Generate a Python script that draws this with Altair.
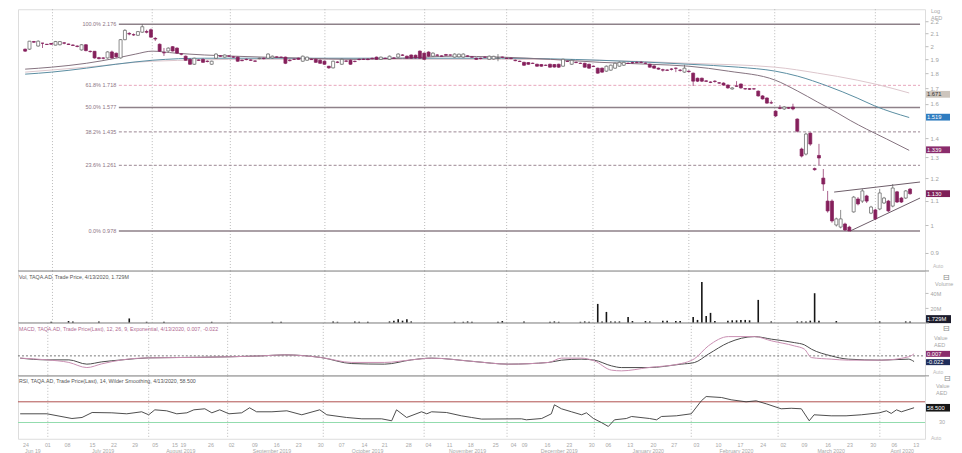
import altair as alt
import pandas as pd

FONT = "Liberation Sans"
W = 908
H_MAIN, H_VOL, H_MACD, H_RSI = 262, 52, 53, 63
XDOM = [-0.5, 206.3]

# ---------------- price candles (trading-day index 0..204) ----------------
opens = [1.976, 1.976, 2.035, 2.0, 2.022, 2.014, 2.02, 2.007, 2.01, 2.025,
         2.016, 2.008, 2.0, 1.97, 2.01, 1.96, 1.96, 1.912, 1.91, 1.91,
         1.955, 1.945, 1.91, 2.05, 2.1, 2.09, 2.085, 2.11, 2.115, 2.13,
         2.06, 2.014, 1.95, 1.962, 1.995, 1.984, 1.94, 1.923, 1.9, 1.864,
         1.895, 1.9, 1.886, 1.864, 1.908, 1.925, 1.916, 1.925, 1.918, 1.916,
         1.893, 1.9, 1.895, 1.888, 1.905, 1.908, 1.908, 1.91, 1.918, 1.916,
         1.916, 1.893, 1.9, 1.908, 1.886, 1.893, 1.9, 1.9, 1.893, 1.886,
         1.85, 1.838, 1.88, 1.864, 1.888, 1.893, 1.886, 1.9, 1.9, 1.902,
         1.908, 1.916, 1.9, 1.908, 1.9, 1.91, 1.916, 1.932, 1.923, 1.932,
         1.93, 1.961, 1.946, 1.954, 1.923, 1.932, 1.925, 1.935, 1.932, 1.916,
         1.918, 1.916, 1.925, 1.918, 1.908, 1.908, 1.916, 1.9, 1.902, 1.908,
         1.916, 1.908, 1.908, 1.893, 1.886, 1.878, 1.876, 1.871, 1.864, 1.862,
         1.857, 1.864, 1.862, 1.864, 1.85, 1.886, 1.864, 1.878, 1.871, 1.871,
         1.864, 1.85, 1.836, 1.836, 1.815, 1.822, 1.836, 1.85, 1.857, 1.871,
         1.876, 1.878, 1.878, 1.872, 1.864, 1.852, 1.836, 1.825, 1.823, 1.83,
         1.836, 1.822, 1.808, 1.815, 1.801, 1.766, 1.766, 1.748, 1.74, 1.746,
         1.735, 1.733, 1.72, 1.694, 1.714, 1.727, 1.696, 1.696, 1.695, 1.68,
         1.649, 1.636, 1.606, 1.555, 1.574, 1.568, 1.575, 1.58, 1.508, 1.343,
         1.317, 1.428, 1.245, 1.31, 1.2, 1.098, 1.098, 1.001, 0.993, 1.005,
         0.993, 1.053, 1.107, 1.098, 1.12, 1.048, 1.061, 1.065, 1.09, 1.098,
         1.077, 1.138, 1.111, 1.111, 1.15]
highs = [1.98, 2.04, 2.04, 2.045, 2.025, 2.016, 2.022, 2.04, 2.038, 2.03,
         2.018, 2.012, 2.005, 2.015, 2.015, 1.965, 1.962, 1.918, 1.915, 1.96,
         1.965, 1.95, 2.055, 2.135, 2.11, 2.1, 2.12, 2.176, 2.13, 2.14,
         2.07, 2.02, 1.985, 1.99, 2.0, 1.99, 1.946, 1.928, 1.905, 1.912,
         1.9, 1.905, 1.892, 1.89, 1.945, 1.93, 1.936, 1.928, 1.922, 1.92,
         1.898, 1.905, 1.9, 1.892, 1.912, 1.912, 1.945, 1.928, 1.922, 1.92,
         1.92, 1.9, 1.905, 1.912, 1.928, 1.92, 1.905, 1.905, 1.9, 1.89,
         1.852, 1.89, 1.886, 1.905, 1.893, 1.898, 1.89, 1.905, 1.905, 1.906,
         1.912, 1.92, 1.92, 1.912, 1.928, 1.915, 1.945, 1.938, 1.928, 1.936,
         1.935, 1.966, 1.95, 1.96, 1.952, 1.938, 1.93, 1.94, 1.936, 1.944,
         1.942, 1.944, 1.93, 1.922, 1.912, 1.912, 1.92, 1.928, 1.926, 1.939,
         1.92, 1.912, 1.912, 1.898, 1.89, 1.882, 1.88, 1.876, 1.868, 1.866,
         1.862, 1.868, 1.866, 1.868, 1.905, 1.89, 1.898, 1.884, 1.876, 1.875,
         1.868, 1.855, 1.84, 1.84, 1.855, 1.862, 1.876, 1.884, 1.882, 1.876,
         1.882, 1.884, 1.886, 1.876, 1.868, 1.856, 1.84, 1.832, 1.828, 1.836,
         1.84, 1.83, 1.86, 1.82, 1.805, 1.77, 1.77, 1.752, 1.745, 1.752,
         1.74, 1.738, 1.724, 1.706, 1.746, 1.73, 1.7, 1.7, 1.7, 1.684,
         1.654, 1.64, 1.62, 1.56, 1.592, 1.585, 1.58, 1.6, 1.512, 1.35,
         1.43, 1.432, 1.25, 1.37, 1.243, 1.142, 1.105, 1.03, 1.061, 1.01,
         0.998, 1.12, 1.115, 1.151, 1.125, 1.078, 1.066, 1.151, 1.116, 1.103,
         1.173, 1.142, 1.116, 1.146, 1.155]
lows = [1.955, 1.97, 2.025, 1.995, 1.985, 2.008, 2.01, 2.005, 2.005, 2.014,
        2.008, 2.0, 1.99, 1.965, 1.96, 1.95, 1.905, 1.9, 1.9, 1.905,
        1.905, 1.912, 1.905, 2.045, 2.085, 2.08, 2.08, 2.105, 2.1, 2.065,
        2.04, 1.955, 1.925, 1.955, 1.958, 1.94, 1.93, 1.89, 1.86, 1.86,
        1.888, 1.875, 1.878, 1.86, 1.905, 1.918, 1.912, 1.918, 1.91, 1.882,
        1.886, 1.893, 1.888, 1.88, 1.9, 1.9, 1.905, 1.905, 1.912, 1.91,
        1.865, 1.885, 1.895, 1.897, 1.882, 1.89, 1.895, 1.875, 1.868, 1.86,
        1.832, 1.834, 1.872, 1.86, 1.88, 1.86, 1.878, 1.893, 1.895, 1.894,
        1.9, 1.897, 1.897, 1.902, 1.896, 1.903, 1.912, 1.925, 1.905, 1.904,
        1.905, 1.904, 1.895, 1.918, 1.918, 1.926, 1.918, 1.926, 1.926, 1.912,
        1.914, 1.912, 1.92, 1.912, 1.896, 1.9, 1.91, 1.897, 1.898, 1.886,
        1.91, 1.902, 1.9, 1.886, 1.88, 1.852, 1.86, 1.866, 1.846, 1.846,
        1.852, 1.84, 1.84, 1.838, 1.846, 1.88, 1.86, 1.872, 1.866, 1.84,
        1.832, 1.844, 1.797, 1.804, 1.81, 1.818, 1.832, 1.846, 1.852, 1.866,
        1.868, 1.872, 1.872, 1.866, 1.84, 1.832, 1.825, 1.812, 1.816, 1.82,
        1.808, 1.812, 1.804, 1.806, 1.714, 1.74, 1.74, 1.74, 1.733, 1.736,
        1.728, 1.716, 1.696, 1.69, 1.708, 1.696, 1.69, 1.688, 1.69, 1.645,
        1.626, 1.6, 1.598, 1.52, 1.566, 1.562, 1.568, 1.56, 1.432, 1.3,
        1.31, 1.36, 1.235, 1.262, 1.142, 1.05, 1.01, 0.995, 0.988, 0.978,
        0.978, 1.05, 1.08, 1.09, 1.09, 1.044, 1.02, 1.06, 1.086, 1.052,
        1.072, 1.09, 1.09, 1.107, 1.125]
closes = [1.961, 2.038, 2.03, 2.038, 2.022, 2.012, 2.014, 2.035, 2.035, 2.022,
          2.012, 2.005, 1.997, 2.01, 1.965, 1.958, 1.91, 1.905, 1.908, 1.955,
          1.91, 1.918, 2.05, 2.125, 2.095, 2.088, 2.115, 2.155, 2.11, 2.07,
          2.055, 1.961, 1.948, 1.984, 1.962, 1.946, 1.938, 1.893, 1.864, 1.908,
          1.893, 1.878, 1.884, 1.886, 1.939, 1.923, 1.932, 1.923, 1.916, 1.886,
          1.89, 1.898, 1.893, 1.886, 1.908, 1.905, 1.939, 1.923, 1.916, 1.915,
          1.871, 1.89, 1.9, 1.9, 1.923, 1.916, 1.898, 1.878, 1.871, 1.864,
          1.838, 1.886, 1.878, 1.9, 1.886, 1.864, 1.884, 1.898, 1.9, 1.898,
          1.905, 1.9, 1.916, 1.906, 1.923, 1.908, 1.939, 1.93, 1.908, 1.908,
          1.91, 1.908, 1.9, 1.923, 1.946, 1.93, 1.923, 1.93, 1.932, 1.939,
          1.938, 1.939, 1.923, 1.916, 1.9, 1.906, 1.915, 1.923, 1.922, 1.91,
          1.915, 1.906, 1.906, 1.89, 1.884, 1.857, 1.864, 1.87, 1.85, 1.85,
          1.856, 1.843, 1.844, 1.843, 1.9, 1.884, 1.893, 1.876, 1.87, 1.843,
          1.836, 1.848, 1.801, 1.808, 1.85, 1.857, 1.871, 1.878, 1.878, 1.87,
          1.874, 1.876, 1.877, 1.871, 1.843, 1.836, 1.829, 1.822, 1.821, 1.828,
          1.835, 1.82, 1.836, 1.812, 1.746, 1.746, 1.746, 1.745, 1.738, 1.744,
          1.733, 1.72, 1.701, 1.701, 1.712, 1.701, 1.694, 1.692, 1.694, 1.649,
          1.63, 1.604, 1.605, 1.526, 1.572, 1.58, 1.573, 1.568, 1.439, 1.307,
          1.423, 1.369, 1.24, 1.297, 1.173, 1.057, 1.017, 1.025, 1.025, 0.982,
          0.978, 1.115, 1.086, 1.142, 1.098, 1.073, 1.025, 1.133, 1.111, 1.057,
          1.155, 1.094, 1.094, 1.142, 1.13]

# ---------------- moving averages (index, price) ----------------
ma_fast_i = [0, 6.1, 14.1, 20.9, 25.5, 29.3, 34.6, 41.4, 48.2, 55.1, 64.2, 75.6, 87.0, 98.4,
             109.8, 121.1, 132.5, 143.9, 153.0, 162.1, 172.9, 178.1, 182.7, 187.2, 190.2,
             194.0, 198.6, 203.8]
ma_fast = [1.829, 1.843, 1.871, 1.908, 1.939, 1.961, 1.946, 1.932, 1.923, 1.916, 1.908, 1.900,
           1.908, 1.923, 1.916, 1.900, 1.878, 1.864, 1.850, 1.815, 1.753, 1.680, 1.610, 1.545,
           1.500, 1.450, 1.396, 1.336]
ma_mid_i = [0, 6.1, 14.1, 20.9, 29.3, 41.4, 64.2, 87.0, 109.8, 132.5, 153.0, 164.4, 172.9,
            178.1, 184.9, 191.8, 195.9, 203.8]
ma_mid = [1.794, 1.808, 1.836, 1.864, 1.893, 1.908, 1.908, 1.908, 1.908, 1.893, 1.864, 1.843,
          1.815, 1.780, 1.714, 1.636, 1.586, 1.517]
ma_slow_i = [0, 14.1, 29.3, 52.8, 87.0, 109.8, 132.5, 153.0, 172.9, 182.7, 191.8, 195.9, 203.8]
ma_slow = [1.808, 1.843, 1.886, 1.900, 1.900, 1.900, 1.893, 1.871, 1.843, 1.801, 1.753, 1.727,
           1.668]

# ---------------- fibonacci retracement ----------------
fib_pct = ["100.0%", "61.8%", "50.0%", "38.2%", "23.6%", "0.0%"]
fib_val = [2.176, 1.718, 1.577, 1.435, 1.261, 0.978]
fib_kind = ["solid", "pink", "solid", "dash", "dash", "solid"]
fib_start_i = 21.6
fib_label_i = 21.0

# wedge trend lines
wedge_name = ["upper", "upper", "lower", "lower"]
wedge_i = [186.5, 206.3, 190.2, 206.3]
wedge_p = [1.137, 1.182, 0.978, 1.111]

# last-value tags on the price axis
price_tag = [1.671, 1.519, 1.339, 1.130]
price_tag_bg = ["#cdc5bd", "#2f7cc0", "#8a2c6c", "#7e1f58"]
price_tag_fg = ["#333333", "#ffffff", "#ffffff", "#ffffff"]
price_tag_shift = [1.8, 0, 0, 0]
price_ticks = [0.9, 1.0, 1.1, 1.2, 1.3, 1.4, 1.6, 1.7, 1.8, 1.9, 2.0, 2.1, 2.2]

# ---------------- volume (millions) ----------------
vol_i = [6, 10, 11, 17, 24, 28, 32, 43, 57, 59, 71, 72, 76, 77, 79, 84, 85, 86, 87, 88, 89,
         99, 101, 102, 103, 109, 110, 115, 121, 122, 123, 128, 129, 130, 132, 133, 134, 135,
         136, 137, 139, 140, 143, 144, 147, 148, 150, 151, 154, 155, 156, 157, 158, 159, 162,
         163, 164, 165, 166, 167, 169, 172, 178, 179, 180, 181, 182, 183, 187, 197, 203, 204]
vol_m = [1.5, 2.5, 2.0, 2.0, 6.0, 1.5, 1.5, 1.5, 1.5, 1.5, 2.0, 1.5, 2.0, 1.5, 1.5, 2.0, 3.0,
         5.0, 3.0, 5.0, 2.0, 1.5, 1.5, 2.0, 1.5, 1.5, 2.5, 2.0, 1.5, 2.0, 1.5, 1.5, 2.0, 1.5,
         25.6, 2.0, 14.8, 2.0, 2.0, 2.0, 8.0, 2.5, 2.5, 2.0, 3.0, 3.0, 2.5, 2.5, 8.0, 4.0, 55.0,
         9.4, 13.5, 2.5, 3.0, 3.5, 3.5, 4.0, 4.0, 3.5, 31.0, 2.0, 2.0, 2.0, 2.0, 3.0, 40.0, 3.0,
         2.5, 2.0, 2.0, 1.729]
vol_last = 1.729

# ---------------- MACD ----------------
macd_i = [0, 6.1, 11.1, 15.2, 18.6, 23.2, 29.3, 41.4, 55.1, 60.3, 68.7, 75.6, 83.1, 89.2, 93.8,
          103.6, 111.3, 120.5, 123.4, 127.9, 130.9, 134.8, 137.1, 143.2, 150.7, 153.7, 156.9,
          161.5, 167.4, 171.3, 176.5, 178.8, 180.4, 184.9, 188.8, 196.3, 202.5, 203.8]
macd_line = [-0.008, -0.014, -0.023, -0.041, -0.028, -0.014, -0.007, -0.005, 0.0, 0.0035,
             -0.006, -0.023, -0.023, -0.014, -0.008, -0.020, -0.029, -0.023, -0.008, -0.008,
             -0.0175, -0.050, -0.0525, -0.041, -0.027, -0.0105, 0.035, 0.0675, 0.0675, 0.0525,
             0.035, 0.0235, -0.006, -0.0115, -0.015, -0.015, -0.0035, 0.007]
macd_signal = [-0.008, -0.014, -0.014, -0.029, -0.021, -0.014, -0.007, -0.005, 0.0, 0.0035,
               -0.006, -0.027, -0.029, -0.014, -0.008, -0.020, -0.029, -0.023, -0.015, -0.0115,
               -0.015, -0.035, -0.041, -0.041, -0.029, -0.0235, 0.006, 0.0465, 0.0675, 0.0585,
               0.0465, 0.0385, 0.0235, 0.0, -0.0115, -0.015, -0.0115, -0.02]
macd_tag = [0.007, -0.022]
macd_tag_bg = ["#8a2c6c", "#1f2d5a"]

# ---------------- RSI ----------------
rsi_i = [0.0, 6.1, 11.8, 14.1, 16.4, 20.9, 24.3, 27.7, 29.3, 30.7, 33.4, 35.7, 38.0, 39.6, 42.1,
         43.7, 45.5, 47.6, 50.5, 52.3, 53.9, 57.4, 60.8, 64.2, 68.3, 69.9, 74.4, 77.9, 82.4,
         84.7, 85.8, 88.1, 91.5, 92.7, 93.8, 97.2, 100.6, 102.9, 105.2, 114.3, 115.4, 118.9,
         121.1, 121.8, 123.4, 125.7, 128.0, 129.1, 130.7, 132.5, 134.1, 135.5, 138.2, 139.4,
         143.5, 145.1, 146.2, 149.6, 153.0, 155.3, 156.4, 159.9, 162.1, 165.5, 167.8, 170.1,
         173.5, 175.8, 178.1, 179.9, 181.0, 184.9, 188.3, 191.8, 195.9, 197.5, 198.6, 199.8,
         200.9, 203.8]
rsi_v = [46.8, 46.8, 37.7, 39.7, 49.3, 48.7, 46.8, 50.7, 44.9, 54.5, 52.6, 46.8, 48.7, 54.5,
         56.5, 48.7, 54.5, 46.8, 48.7, 58.4, 50.7, 50.7, 52.6, 44.9, 54.5, 44.9, 39.7, 37.1,
         37.1, 33.3, 54.5, 39.7, 50.7, 46.8, 50.7, 49.3, 42.9, 39.7, 36.6, 37.1, 35.2, 37.7,
         46.8, 64.2, 56.5, 50.7, 44.9, 48.7, 37.7, 30.0, 22.3, 35.2, 37.7, 41.6, 37.7, 35.2,
         41.6, 42.9, 46.8, 71.9, 80.2, 78.3, 73.9, 70.0, 71.9, 66.1, 56.5, 57.5, 56.5, 33.3,
         44.9, 42.9, 42.9, 44.9, 48.7, 52.6, 47.5, 54.5, 50.7, 58.5]
rsi_last = 58.5
rsi_levels = [70, 30]

# ---------------- time axis ----------------
month_i = [6.3, 29.3, 47.3, 69.1, 92.1, 111.0, 130.9, 153.0, 172.8, 196.0]
tick_i = [1.3, 6.3, 10.8, 16.5, 21.4, 26.2, 30.8, 35.3, 37.2, 43.5, 48.2, 53.5, 58.5, 63.5,
          68.5, 73.3, 78.5, 83.1, 88.6, 93.1, 97.9, 102.7, 108.4, 112.5, 115.0, 120.2, 125.2,
          130.3, 134.1, 139.1, 144.4, 149.1, 154.2, 159.2, 164.2, 169.4, 174.0, 178.8, 184.2,
          189.2, 194.5, 199.3, 204.3]
tick_lbl = ["24", "01", "08", "15", "22", "29", "05", "15", "19", "26", "02", "09", "16", "23",
            "30", "07", "14", "21", "28", "04", "11", "18", "25", "04", "09", "16", "23", "30",
            "06", "13", "20", "27", "03", "10", "17", "24", "02", "09", "16", "23", "30", "06",
            "13"]
month_lbl_i = [2.9, 18.9, 36.6, 57.4, 79.2, 102.0, 122.9, 143.2, 163.3, 184.9, 201.1]
month_lbl = ["Jun 19", "July 2019", "August 2019", "September 2019", "October 2019",
             "November 2019", "December 2019", "January 2020", "February 2020", "March 2020",
             "April 2020"]

# ======================================================================
xs = alt.Scale(domain=XDOM, nice=False, zero=False)


def X(f):
    return alt.X(f"{f}:Q", scale=xs, axis=None, title=None)


def txt(s, x, y, size=5.5, color="#8c8c8c", align="left", baseline="middle", font=FONT):
    return alt.Chart(pd.DataFrame({"t": [s]})).mark_text(
        align=align, baseline=baseline, fontSize=size, color=color, font=font
    ).encode(x=alt.value(x), y=alt.value(y), text="t:N")


months_df = pd.DataFrame({"m": month_i})


def month_rules(h):
    return alt.Chart(months_df).mark_rule(color="#a9a9a9", strokeDash=[1, 2], strokeWidth=0.8).encode(
        x=X("m"), y=alt.value(0), y2=alt.value(h))


def separator():
    return alt.Chart(pd.DataFrame({"a": [0]})).mark_rule(color="#8f8f8f", strokeWidth=1).encode(
        x=alt.value(0), x2=alt.value(W + 4), y=alt.value(0))


def tag_layers(vals, bgs, fgs, yenc_fn, offs=(-3.4, 3.4), shifts=None):
    layers = []
    shifts = shifts or [0] * len(vals)
    for v, bg, fg, sh in zip(vals, bgs, fgs, shifts):
        d = pd.DataFrame({"v": [v], "t": [f"{v:.3f}"]})
        layers.append(alt.Chart(d).mark_rect(color=bg, yOffset=offs[0] + sh,
                                             y2Offset=offs[1] + sh).encode(
            x=alt.value(W + 1), x2=alt.value(W + 25), y=yenc_fn("v"), y2=alt.Y2("v:Q")))
        layers.append(alt.Chart(d).mark_text(align="left", baseline="middle", fontSize=5.8,
                                             color=fg, font=FONT, dy=sh).encode(
            x=alt.value(W + 2), y=yenc_fn("v"), text="t:N"))
    return layers


# ---------------- main price panel ----------------
ys_main = alt.Scale(type="log", domain=[0.838, 2.306], nice=False, zero=False)
yax_main = alt.Axis(orient="right", values=price_ticks, format="~g", labelFont=FONT,
                    labelFontSize=6, labelColor="#a3a3a3", tickColor="#bdbdbd", tickSize=3,
                    labelPadding=2, domain=False, grid=False)


def YM(f):
    return alt.Y(f"{f}:Q", scale=ys_main, axis=yax_main, title=None)


cdf = pd.DataFrame({"i": list(range(len(opens))), "o": opens, "h": highs, "l": lows, "c": closes})
cdf["dir"] = ["up" if c > o else "down" for o, c in zip(opens, closes)]
stroke_sc = alt.Scale(domain=["up", "down"], range=["#5b5b5b", "#85205b"])
fill_sc = alt.Scale(domain=["up", "down"], range=["#ffffff", "#85205b"])

wicks = alt.Chart(cdf).mark_rule(strokeWidth=0.7).encode(
    x=X("i"), y=YM("l"), y2=alt.Y2("h:Q"), stroke=alt.Stroke("dir:N", scale=stroke_sc, legend=None))
bodies = alt.Chart(cdf).mark_bar(size=3, strokeWidth=0.7).encode(
    x=X("i"), y=YM("o"), y2=alt.Y2("c:Q"),
    fill=alt.Fill("dir:N", scale=fill_sc, legend=None),
    stroke=alt.Stroke("dir:N", scale=stroke_sc, legend=None))

fdf = pd.DataFrame({"v": fib_val, "kind": fib_kind, "x0": fib_start_i, "x1": XDOM[1],
                    "lx": fib_label_i, "lbl": [f"{p}   {v:.3f}" for p, v in zip(fib_pct, fib_val)]})
fib_solid = alt.Chart(fdf[fdf.kind == "solid"]).mark_rule(color="#8e8189", strokeWidth=1.4).encode(
    x=X("x0"), x2="x1:Q", y=YM("v"))
fib_pink = alt.Chart(fdf[fdf.kind == "pink"]).mark_rule(color="#e7a6bc", strokeWidth=1,
                                                        strokeDash=[3, 2]).encode(
    x=X("x0"), x2="x1:Q", y=YM("v"))
fib_dash = alt.Chart(fdf[fdf.kind == "dash"]).mark_rule(color="#9b8793", strokeWidth=1,
                                                        strokeDash=[3, 2]).encode(
    x=X("x0"), x2="x1:Q", y=YM("v"))
fib_text = alt.Chart(fdf).mark_text(align="right", baseline="middle", fontSize=5.5,
                                    color="#8d7484", font=FONT).encode(
    x=X("lx"), y=YM("v"), text="lbl:N")


def ma_line(ii, pp, color):
    return alt.Chart(pd.DataFrame({"i": ii, "p": pp})).mark_line(
        color=color, strokeWidth=1, interpolate="monotone").encode(x=X("i"), y=YM("p"))


wdf = pd.DataFrame({"name": wedge_name, "i": wedge_i, "p": wedge_p})
wedge = alt.Chart(wdf).mark_line(color="#6d5d69", strokeWidth=1).encode(
    x=X("i"), y=YM("p"), detail="name:N")

main = alt.layer(
    month_rules(H_MAIN), fib_solid, fib_pink, fib_dash,
    ma_line(ma_slow_i, ma_slow, "#dcc6cc"), ma_line(ma_mid_i, ma_mid, "#5a8ea2"),
    ma_line(ma_fast_i, ma_fast, "#85727f"),
    wedge, wicks, bodies, fib_text,
    *tag_layers(price_tag, price_tag_bg, price_tag_fg, YM, shifts=price_tag_shift),
    txt("Log", W + 6, 0, baseline="top", color="#a8a8a8"),
    txt("AED", W + 6, 6.5, baseline="top", color="#a8a8a8"),
    txt("Auto", W + 8, H_MAIN - 5, size=5, color="#b8b8b8"),
).properties(width=W, height=H_MAIN)

# ---------------- volume panel ----------------
ys_vol = alt.Scale(domain=[0, 70], nice=False)
yax_vol = alt.Axis(orient="right", values=[20, 40], labelExpr="datum.value + 'M'", labelFont=FONT,
                   labelFontSize=5.5, labelColor="#a3a3a3", tickColor="#bdbdbd", tickSize=3,
                   labelPadding=2, domain=False, grid=False)


def YV(f):
    return alt.Y(f"{f}:Q", scale=ys_vol, axis=yax_vol, title=None)


vdf = pd.DataFrame({"i": vol_i, "v": vol_m})
vbars = alt.Chart(vdf).mark_bar(size=1.6, color="#161616").encode(x=X("i"), y=YV("v"))
vtag = pd.DataFrame({"v": [vol_last], "t": ["1.729M"]})
vol = alt.layer(
    month_rules(H_VOL), separator(), vbars,
    alt.Chart(vtag).mark_rect(color="#1c1c2c", yOffset=-6.5, y2Offset=1.5).encode(
        x=alt.value(W + 1), x2=alt.value(W + 26), y=YV("v"), y2=alt.Y2("v:Q")),
    alt.Chart(vtag).mark_text(align="left", baseline="middle", fontSize=5.8, color="#ffffff",
                              font=FONT, dy=-2.5).encode(x=alt.value(W + 2), y=YV("v"), text="t:N"),
    txt("Vol, TAQA.AD, Trade Price, 4/13/2020, 1.729M", 1, 6, size=5.3, color="#555555"),
    txt("⊟", W + 18, 7, size=8, color="#8a8a8a", font="DejaVu Sans"),
    txt("Volume", W + 10, 13, size=5.5, color="#a8a8a8"),
).properties(width=W, height=H_VOL)

# ---------------- MACD panel ----------------
ys_macd = alt.Scale(domain=[-0.07, 0.1155], nice=False, zero=False)


def YC(f):
    return alt.Y(f"{f}:Q", scale=ys_macd, axis=None, title=None)


mdf = pd.DataFrame({"i": macd_i, "m": macd_line, "s": macd_signal})
macd = alt.layer(
    month_rules(H_MACD), separator(),
    alt.Chart(pd.DataFrame({"z": [0.0]})).mark_rule(color="#555555", strokeDash=[2, 2],
                                                    strokeWidth=0.8).encode(
        x=alt.value(0), x2=alt.value(W), y=YC("z")),
    alt.Chart(mdf).mark_line(color="#4a4a4a", strokeWidth=1, interpolate="monotone").encode(
        x=X("i"), y=YC("s")),
    alt.Chart(mdf).mark_line(color="#c98fb2", strokeWidth=1, interpolate="monotone").encode(
        x=X("i"), y=YC("m")),
    *tag_layers(macd_tag, macd_tag_bg, ["#ffffff", "#ffffff"], YC, offs=(-3, 3)),
    txt("MACD, TAQA.AD, Trade Price(Last),  12, 26, 9, Exponential, 4/13/2020, 0.007, -0.022",
        1, 6, size=5.3, color="#b06a92"),
    txt("⊟", W + 18, 6, size=8, color="#8a8a8a", font="DejaVu Sans"),
    txt("Value", W + 9, 15, size=5.5, color="#a8a8a8"),
    txt("AED", W + 9, 22, size=5.5, color="#a8a8a8"),
    txt("Auto", W + 8, H_MACD - 4, size=5, color="#b8b8b8"),
).properties(width=W, height=H_MACD)

# ---------------- RSI panel ----------------
ys_rsi = alt.Scale(domain=[-1.5, 120.2], nice=False, zero=False)


def YR(f):
    return alt.Y(f"{f}:Q", scale=ys_rsi, axis=None, title=None)


rdf = pd.DataFrame({"i": rsi_i, "v": rsi_v})
lvl = pd.DataFrame({"v": rsi_levels})
tdf = pd.DataFrame({"i": tick_i, "t": tick_lbl})
mldf = pd.DataFrame({"i": month_lbl_i, "t": month_lbl})
rtag = pd.DataFrame({"v": [rsi_last], "t": ["58.500"]})
rsi = alt.layer(
    month_rules(H_RSI), separator(),
    alt.Chart(lvl[lvl.v == 70]).mark_rule(color="#b0504f", strokeWidth=1).encode(
        x=alt.value(0), x2=alt.value(W), y=YR("v")),
    alt.Chart(lvl[lvl.v == 30]).mark_rule(color="#93dcae", strokeWidth=1.2).encode(
        x=alt.value(0), x2=alt.value(W), y=YR("v")),
    alt.Chart(rdf).mark_line(color="#3a3a3a", strokeWidth=0.9).encode(x=X("i"), y=YR("v")),
    alt.Chart(rtag).mark_rect(color="#161616", yOffset=-3.8, y2Offset=3.8).encode(
        x=alt.value(W + 1), x2=alt.value(W + 25), y=YR("v"), y2=alt.Y2("v:Q")),
    alt.Chart(rtag).mark_text(align="left", baseline="middle", fontSize=5.8, color="#ffffff",
                              font=FONT).encode(x=alt.value(W + 2), y=YR("v"), text="t:N"),
    alt.Chart(lvl[lvl.v == 30]).mark_text(align="left", baseline="middle", fontSize=5.5,
                                          color="#a8a8a8", font=FONT).encode(
        x=alt.value(W + 14), y=YR("v"), text="v:N"),
    txt("RSI, TAQA.AD, Trade Price(Last),  14, Wilder Smoothing, 4/13/2020, 58.500",
        1, 5, size=5.3, color="#555555"),
    txt("⊟", W + 19, 3, size=8, color="#8a8a8a", font="DejaVu Sans"),
    txt("Value", W + 11, 10, size=5.5, color="#a8a8a8"),
    txt("AED", W + 11, 17, size=5.5, color="#a8a8a8"),
    txt("Auto", W + 6, H_RSI - 1, size=5, color="#b8b8b8"),
    alt.Chart(tdf).mark_text(align="center", baseline="middle", fontSize=5.3, color="#a8a8a8",
                             font=FONT).encode(x=X("i"), y=alt.value(H_RSI + 6.5), text="t:N"),
    alt.Chart(mldf).mark_text(align="center", baseline="middle", fontSize=5.2, color="#a8a8a8",
                              font=FONT).encode(x=X("i"), y=alt.value(H_RSI + 12), text="t:N"),
).properties(width=W, height=H_RSI)

chart = alt.vconcat(main, vol, macd, rsi, spacing=0, bounds="flush").properties(
    padding={"left": 8, "top": 0, "right": 0, "bottom": 0}
).configure_view(stroke=None).configure(background="#ffffff")

chart.save("out.html", embed_options={"renderer": "svg", "actions": False})
